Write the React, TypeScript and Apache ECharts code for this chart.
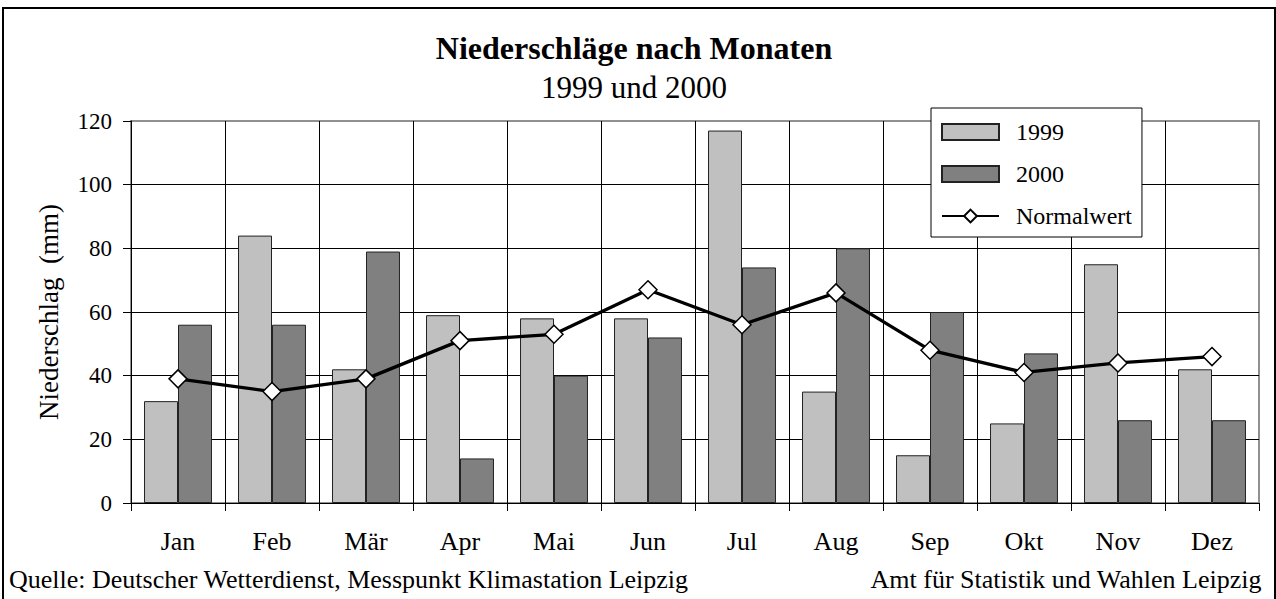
import React, { useEffect, useRef } from "react";
import * as echarts from "echarts";

const months = ["Jan", "Feb", "Mär", "Apr", "Mai", "Jun", "Jul", "Aug", "Sep", "Okt", "Nov", "Dez"];
const values1999 = [32, 84, 42, 59, 58, 58, 117, 35, 15, 25, 75, 42];
const values2000 = [56, 56, 79, 14, 40, 52, 74, 80, 60, 47, 26, 26];
const normalwert = [39, 35, 39, 51, 53, 67, 56, 66, 48, 41, 44, 46];
const yTicks = { min: 0, max: 120, interval: 20 };

const FONT = "'Liberation Serif', 'Times New Roman', serif";

export default function App() {
  const ref = useRef<HTMLDivElement>(null);
  useEffect(() => {
    document.body.style.margin = "0";
    const chart = echarts.init(ref.current!, null, { renderer: "svg" });
    chart.setOption({
      animation: false,
      backgroundColor: "#ffffff",
      textStyle: { fontFamily: FONT, color: "#000" },
      title: [
        {
          text: "Niederschläge nach Monaten",
          left: 629,
          top: 27,
          textAlign: "center",
          textStyle: { fontFamily: FONT, fontSize: 32, fontWeight: "bold", color: "#000" },
        },
        {
          text: "1999 und 2000",
          left: 629,
          top: 67,
          textAlign: "center",
          textStyle: { fontFamily: FONT, fontSize: 31, fontWeight: "normal", color: "#000" },
        },
      ],
      legend: {
        orient: "vertical",
        left: 931,
        top: 108,
        backgroundColor: "#fff",
        borderColor: "#000",
        borderWidth: 1,
        padding: [12, 10, 9, 10],
        itemWidth: 57,
        itemHeight: 16,
        itemGap: 18,
        textStyle: { fontFamily: FONT, fontSize: 24, color: "#000", padding: [0, 0, 0, 12] },
        data: [
          { name: "1999", icon: "rect" },
          { name: "2000", icon: "rect" },
          { name: "Normalwert" },
        ],
      },
      grid: {
        left: 131,
        right: 17,
        top: 121,
        bottom: 96,
        show: true,
        borderColor: "#909090",
        borderWidth: 2,
        backgroundColor: "transparent",
      },
      xAxis: {
        type: "category",
        data: months,
        axisLine: { lineStyle: { color: "#000", width: 1 } },
        axisTick: { show: true, length: 8, lineStyle: { color: "#000" } },
        axisLabel: { fontFamily: FONT, fontSize: 26, color: "#000", margin: 25 },
        splitLine: { show: true, showMaxLine: false, lineStyle: { color: "#000", width: 1 } },
      },
      yAxis: {
        type: "value",
        min: yTicks.min,
        max: yTicks.max,
        interval: yTicks.interval,
        name: "Niederschlag  (mm)",
        nameLocation: "middle",
        nameGap: 69,
        nameTextStyle: { fontFamily: FONT, fontSize: 27, color: "#000" },
        axisLine: { show: true, lineStyle: { color: "#000", width: 1 } },
        axisTick: { show: true, length: 8, lineStyle: { color: "#000" } },
        axisLabel: { fontFamily: FONT, fontSize: 23, color: "#000", margin: 19 },
        splitLine: { show: true, showMaxLine: false, lineStyle: { color: "#000", width: 1 } },
      },
      series: [
        {
          name: "1999",
          type: "bar",
          data: values1999,
          barGap: "0%",
          barCategoryGap: "27.7%",
          itemStyle: { color: "#c0c0c0", borderColor: "#222", borderWidth: 1 },
        },
        {
          name: "2000",
          type: "bar",
          data: values2000,
          itemStyle: { color: "#808080", borderColor: "#222", borderWidth: 1 },
        },
        {
          name: "Normalwert",
          type: "line",
          data: normalwert,
          z: 5,
          symbol: "diamond",
          symbolSize: 18,
          lineStyle: { color: "#000", width: 3.3 },
          itemStyle: { color: "#fff", borderColor: "#000", borderWidth: 1.5 },
        },
      ],
      graphic: [
        {
          type: "rect",
          shape: { x: 3, y: 8, width: 1272, height: 600 },
          style: { fill: "none", stroke: "#000", lineWidth: 2 },
          silent: true,
        },
        {
          type: "text",
          left: 9,
          top: 566,
          style: {
            text: "Quelle: Deutscher Wetterdienst, Messpunkt Klimastation Leipzig",
            font: `26px ${FONT}`,
            fill: "#000",
          },
        },
        {
          type: "text",
          right: 14,
          top: 566,
          style: {
            text: "Amt für Statistik und Wahlen Leipzig",
            font: `26px ${FONT}`,
            fill: "#000",
          },
        },
      ],
    });
    return () => chart.dispose();
  }, []);
  return (
    <div
      ref={ref}
      style={{ position: "absolute", left: 0, top: 0, width: 1276, height: 599 }}
    />
  );
}
